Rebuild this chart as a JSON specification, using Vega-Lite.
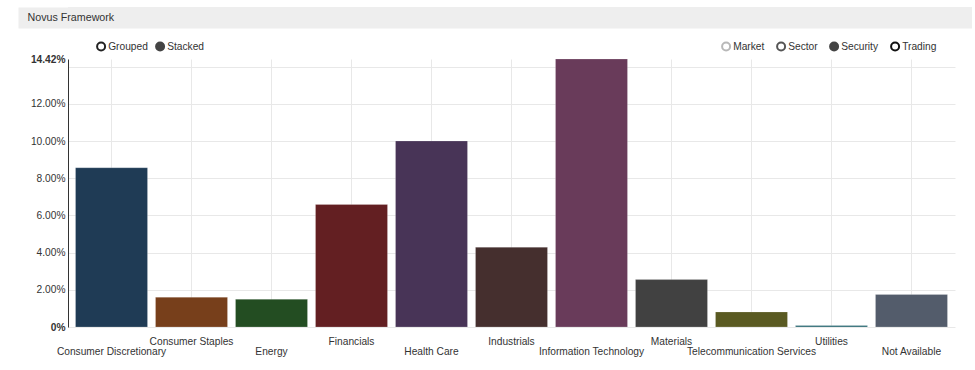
{
  "$schema": "https://vega.github.io/schema/vega-lite/v6.json",
  "background": "#ffffff",
  "padding": {"left": 18, "top": 7, "right": 3, "bottom": 2},
  "config": {"font": "Liberation Sans", "view": {"stroke": null}},
  "spacing": 12,
  "vconcat": [
    {
      "width": 904,
      "height": 21,
      "view": {"fill": "#eeeeee", "stroke": null},
      "data": {"values": [{"panel": "Novus Framework"}]},
      "mark": {"type": "rule", "color": "#eeeeee"},
      "encoding": {
        "y": {
          "datum": 0, "type": "quantitative", "scale": {"domain": [0, 1]},
          "axis": {
            "title": "Novus Framework", "titleAngle": 0, "titleAlign": "left", "titleBaseline": "middle",
            "titleX": -16, "titleY": 10.5, "titleFontSize": 10.7, "titleFontWeight": "normal", "titleColor": "#333333", "titleFont": "Liberation Sans",
            "labels": false, "ticks": false, "grid": false, "domain": true, "domainColor": "#eeeeee", "domainWidth": 50, "offset": 25, "minExtent": 0
          }
        }
      }
    },
    {
      "width": 887,
      "height": 268,
      "resolve": {"scale": {"fill": "independent", "stroke": "independent"}, "legend": {"fill": "independent", "stroke": "independent"}},
      "layer": [
        {
          "data": {"values": [
            {"sector": "Consumer Discretionary", "weight": 8.57},
            {"sector": "Consumer Staples", "weight": 1.60},
            {"sector": "Energy", "weight": 1.49},
            {"sector": "Financials", "weight": 6.59},
            {"sector": "Health Care", "weight": 10.01},
            {"sector": "Industrials", "weight": 4.29},
            {"sector": "Information Technology", "weight": 14.42},
            {"sector": "Materials", "weight": 2.55},
            {"sector": "Telecommunication Services", "weight": 0.81},
            {"sector": "Utilities", "weight": 0.08},
            {"sector": "Not Available", "weight": 1.75}
          ]},
          "mark": {"type": "bar", "stroke": "#ffffff", "strokeOpacity": 0.2, "strokeWidth": 1},
          "encoding": {
            "x": {
              "field": "sector", "type": "nominal", "sort": null,
              "scale": {"paddingInner": 0.1, "paddingOuter": 0.094},
              "axis": {
                "title": null, "orient": "bottom", "domain": false, "ticks": false,
                "grid": true, "gridColor": "#e8e8e8", "bandPosition": 0.5,
                "labelAngle": 0, "labelBaseline": "top", "labelAlign": "center",
                "labelFontSize": 10.2, "labelColor": "#333333", "labelOverlap": false, "labelLimit": 0,
                "labelPadding": {"condition": {"test": "indexof(['Consumer Staples','Financials','Industrials','Materials','Utilities'], datum.value) >= 0", "value": 9}, "value": 19}
              }
            },
            "y": {
              "field": "weight", "type": "quantitative",
              "scale": {"domain": [0, 14.42], "nice": false, "zero": true},
              "axis": {
                "title": null, "values": [0, 2, 4, 6, 8, 10, 12, 14, 14.42],
                "domain": true, "domainColor": "#333333", "ticks": false,
                "grid": true, "gridColor": "#e8e8e8",
                "gridOpacity": {"condition": {"test": "datum.value > 14.1", "value": 0}, "value": 1},
                "labelExpr": "datum.value == 14 ? '' : datum.value == 0 ? '0%' : format(datum.value, '.2f') + '%'",
                "labelFontSize": 10.2, "labelColor": "#333333",
                "labelFontWeight": {"condition": {"test": "datum.value == 0 || datum.value > 14.1", "value": "bold"}, "value": "normal"},
                "labelPadding": 3, "labelOverlap": false, "labelFlush": false, "minExtent": 50
              }
            },
            "color": {
              "field": "sector", "type": "nominal", "legend": null,
              "scale": {
                "domain": ["Consumer Discretionary", "Consumer Staples", "Energy", "Financials", "Health Care", "Industrials", "Information Technology", "Materials", "Telecommunication Services", "Utilities", "Not Available"],
                "range": ["#1f3b55", "#773f1b", "#234d22", "#631f22", "#483457", "#452f2e", "#693b5a", "#414141", "#5a5a22", "#2e6c75", "#535c6b"]
              }
            }
          }
        },
        {
          "data": {"values": [{"layout": "Grouped"}, {"layout": "Stacked"}]},
          "transform": [{"filter": "false"}],
          "mark": {"type": "point", "filled": true, "opacity": 1, "strokeWidth": 2},
          "encoding": {
            "fill": {
              "field": "layout", "type": "nominal",
              "scale": {"domain": ["Grouped", "Stacked"], "range": ["#ffffff", "#444444"]},
              "legend": {
                "title": null, "orient": "none", "legendX": 28, "legendY": -18, "direction": "horizontal",
                "padding": 0, "symbolType": "circle", "symbolSize": 64, "symbolStrokeWidth": 2, "symbolOpacity": 1,
                "labelOffset": 2, "columnPadding": 4, "labelFontSize": 10.2, "labelColor": "#333333", "labelFont": "Liberation Sans"
              }
            },
            "stroke": {
              "field": "layout", "type": "nominal",
              "scale": {"domain": ["Grouped", "Stacked"], "range": ["#222222", "#444444"]},
              "legend": {
                "title": null, "orient": "none", "legendX": 28, "legendY": -18, "direction": "horizontal",
                "padding": 0, "symbolType": "circle", "symbolSize": 64, "symbolStrokeWidth": 2, "symbolOpacity": 1,
                "labelOffset": 2, "columnPadding": 4, "labelFontSize": 10.2, "labelColor": "#333333", "labelFont": "Liberation Sans"
              }
            }
          }
        },
        {
          "data": {"values": [{"view": "Market"}, {"view": "Sector"}, {"view": "Security"}, {"view": "Trading"}]},
          "transform": [{"filter": "false"}],
          "mark": {"type": "point", "filled": true, "opacity": 1, "strokeWidth": 2},
          "encoding": {
            "fill": {
              "field": "view", "type": "nominal",
              "scale": {"domain": ["Market", "Sector", "Security", "Trading"], "range": ["#ffffff", "#ffffff", "#444444", "#ffffff"]},
              "legend": {
                "title": null, "orient": "none", "legendX": 653, "legendY": -18, "direction": "horizontal",
                "padding": 0, "symbolType": "circle", "symbolSize": 64, "symbolStrokeWidth": 2, "symbolOpacity": 1,
                "labelOffset": 2, "columnPadding": 8, "labelFontSize": 10.2, "labelColor": "#333333", "labelFont": "Liberation Sans"
              }
            },
            "stroke": {
              "field": "view", "type": "nominal",
              "scale": {"domain": ["Market", "Sector", "Security", "Trading"], "range": ["#b8b8b8", "#555555", "#444444", "#111111"]},
              "legend": {
                "title": null, "orient": "none", "legendX": 653, "legendY": -18, "direction": "horizontal",
                "padding": 0, "symbolType": "circle", "symbolSize": 64, "symbolStrokeWidth": 2, "symbolOpacity": 1,
                "labelOffset": 2, "columnPadding": 8, "labelFontSize": 10.2, "labelColor": "#333333", "labelFont": "Liberation Sans"
              }
            }
          }
        }
      ]
    }
  ]
}
